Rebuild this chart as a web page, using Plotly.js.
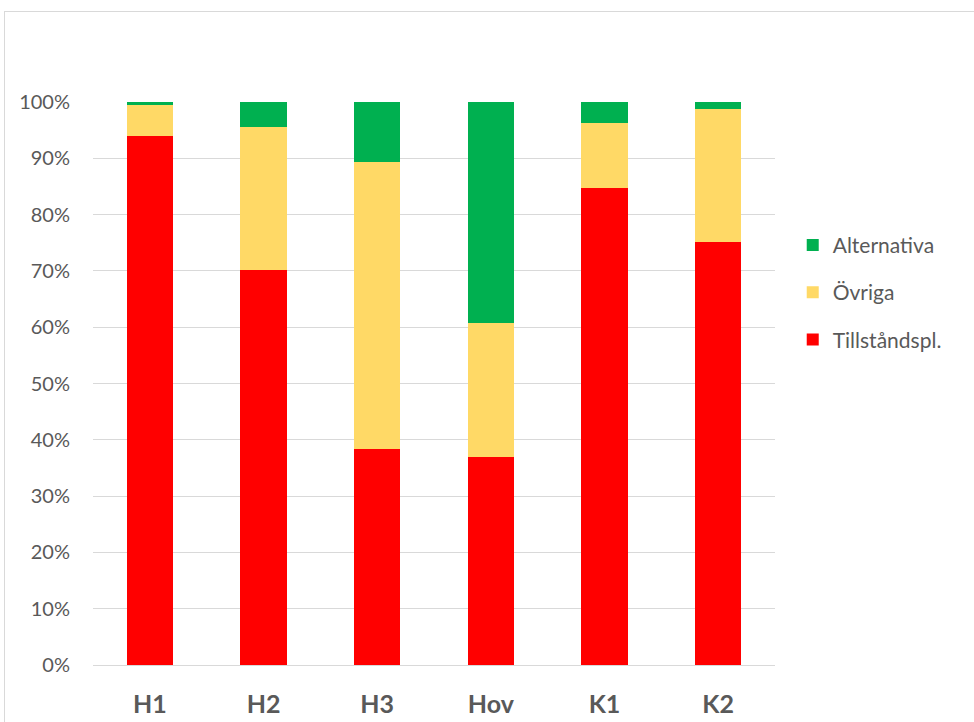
<!DOCTYPE html>
<html>
<head>
<meta charset="utf-8">
<script src="https://cdn.plot.ly/plotly-3.0.1.min.js"></script>
<style>
html,body{margin:0;padding:0;background:#fff;overflow:hidden;}
#wrap{position:relative;width:974px;height:722px;}
#chart{position:absolute;left:0;top:0;width:974px;height:722px;}
#frame{position:absolute;left:4px;top:11px;width:1000px;height:800px;border:1px solid #d9d9d9;pointer-events:none;}
</style>
</head>
<body>
<div id="wrap"><div id="chart"></div><div id="frame"></div></div>
<script>
const categories = ["H1", "H2", "H3", "Hov", "K1", "K2"];
const tillstandspl = [94.0, 70.2, 38.4, 37.0, 84.8, 75.2];
const ovriga = [5.4, 25.3, 51.0, 23.8, 11.4, 23.5];
const alternativa = [0.6, 4.5, 10.6, 39.2, 3.8, 1.3];
const yTicks = [0, 10, 20, 30, 40, 50, 60, 70, 80, 90, 100];
const yTickText = yTicks.map(v => v + "%");

const FONT = "Lato, 'Open Sans', sans-serif";

const traces = [
  {name: "Tillståndspl.", y: tillstandspl, color: "#FF0000", rank: 3},
  {name: "Övriga", y: ovriga, color: "#FFD966", rank: 2},
  {name: "Alternativa", y: alternativa, color: "#00B050", rank: 1}
].map(s => ({
  type: "bar",
  x: categories,
  y: s.y,
  name: s.name,
  legendgroup: s.name,
  legendrank: s.rank,
  marker: {color: s.color, line: {width: 0}},
  hoverinfo: "x+y+name"
}));

const layout = {
  width: 974,
  height: 722,
  margin: {l: 93, r: 199, t: 102, b: 57, pad: 0},
  paper_bgcolor: "#ffffff",
  plot_bgcolor: "#ffffff",
  barmode: "stack",
  bargap: 0.595,
  showlegend: true,
  legend: {
    x: 1.026, xanchor: "left",
    y: 0.782, yanchor: "top",
    traceorder: "grouped",
    tracegroupgap: 17,
    font: {family: FONT, size: 21, color: "#595959"},
    itemwidth: 30
  },
  xaxis: {
    type: "category",
    showgrid: false,
    showline: false,
    ticks: "",
    ticklabelstandoff: 22,
    tickfont: {family: FONT, size: 25, color: "#595959", weight: "bold"},
    fixedrange: true
  },
  yaxis: {
    range: [0, 100],
    tickvals: yTicks,
    ticktext: yTickText,
    showgrid: true,
    gridcolor: "#d9d9d9",
    gridwidth: 1,
    zeroline: true,
    zerolinecolor: "#d9d9d9",
    zerolinewidth: 1,
    showline: false,
    ticks: "",
    ticklabelstandoff: 22,
    tickfont: {family: FONT, size: 20, color: "#595959"},
    fixedrange: true
  }
};

Plotly.newPlot("chart", traces, layout, {displayModeBar: false, staticPlot: true});
</script>
</body>
</html>
